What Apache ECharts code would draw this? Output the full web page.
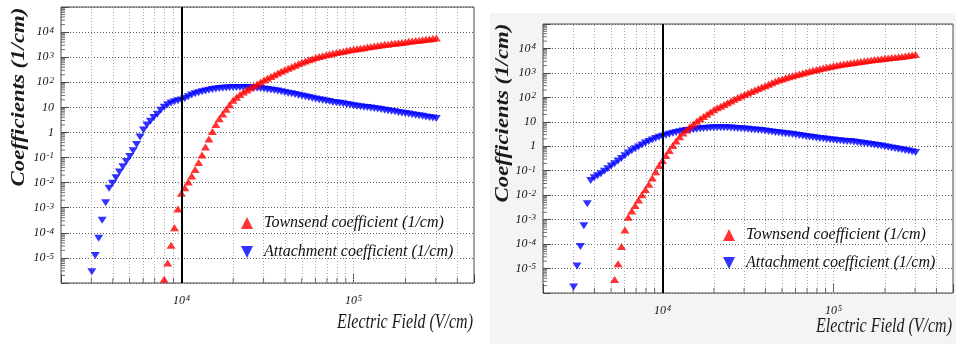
<!DOCTYPE html>
<html>
<head>
<meta charset="utf-8">
<script src="https://cdn.jsdelivr.net/npm/echarts@6/dist/echarts.min.js"></script>
<style>
  html, body { margin: 0; padding: 0; background: #ffffff; }
  #wrap { position: relative; width: 956px; height: 344px; overflow: hidden; }
  #panelShade { position: absolute; left: 490px; top: 13px; width: 466px; height: 331px; background: #f4f4f4; }
  #chart { position: absolute; left: 0; top: 0; width: 956px; height: 344px; }
</style>
</head>
<body>
<div id="wrap">
  <div id="panelShade"></div>
  <div id="chart"></div>
</div>
<script>
// Electric field grid (V/cm), shared by every curve
const fields = [
  3020, 3162, 3311, 3467, 3631, 3802, 3981, 4169, 4365, 4571,
  4786, 5012, 5248, 5495, 5754, 6026, 6310, 6607, 6918, 7244,
  7586, 7943, 8318, 8710, 9120, 9550, 10000, 10470, 10960, 11480,
  12020, 12590, 13180, 13800, 14450, 15140, 15850, 16600, 17380, 18200,
  19050, 19950, 20890, 21880, 22910, 23990, 25120, 26300, 27540, 28840,
  30200, 31620, 33110, 34670, 36310, 38020, 39810, 41690, 43650, 45710,
  47860, 50120, 52480, 54950, 57540, 60260, 63100, 66070, 69180, 72440,
  75860, 79430, 83180, 87100, 91200, 95500, 100000, 104700, 109600, 114800,
  120200, 125900, 131800, 138000, 144500, 151400, 158500, 166000, 173800, 182000,
  190500, 199500, 208900, 218800, 229100, 239900, 251200, 263000, 275400, 288400,
  302000
];

// Left figure: Townsend coefficient (1/cm)
const townsendA = [
  null, null, null, null, null, null, null, null, null, null,
  null, null, null, null, null, null, null, null, null, null,
  null, 1.41e-6, 6.31e-6, 3.16e-5, 1.58e-4, 8.91e-4, 3.80e-3, 6.31e-3, 1.05e-2, 1.82e-2,
  3.31e-2, 6.31e-2, 0.126, 0.263, 0.550, 1.10, 2.09, 3.55, 5.50, 8.32,
  12.6, 19.1, 25.1, 32.4, 40.7, 49.0, 58.9, 70.8, 85.1, 102,
  123, 145, 170, 200, 234, 275, 316, 363, 417, 479,
  550, 631, 708, 794, 871, 977, 1070, 1150, 1260, 1350,
  1450, 1550, 1660, 1740, 1860, 2000, 2090, 2190, 2290, 2400,
  2570, 2690, 2820, 2950, 3090, 3240, 3310, 3470, 3630, 3800,
  3890, 4070, 4270, 4370, 4570, 4680, 4900, 5130, 5250, 5500,
  5750
];

// Left figure: attachment coefficient (1/cm)
const attachmentA = [
  2.82e-6, 1.26e-5, 6.03e-5, 3.16e-4, 1.58e-3, 6.03e-3, 9.55e-3, 1.58e-2, 2.63e-2, 4.27e-2,
  6.92e-2, 0.110, 0.186, 0.331, 0.661, 1.26, 2.00, 2.82, 3.98, 5.37,
  7.59, 10.0, 12.6, 14.8, 16.6, 18.2, 19.5, 22.4, 26.3, 30.9,
  34.7, 38.0, 41.7, 44.7, 47.9, 51.3, 53.7, 56.2, 57.5, 58.9,
  60.3, 61.7, 61.7, 61.7, 61.7, 61.7, 60.3, 58.9, 57.5, 56.2,
  53.7, 51.3, 49.0, 46.8, 44.7, 41.7, 38.9, 36.3, 34.7, 32.4,
  30.2, 28.2, 26.3, 24.5, 22.9, 21.4, 20.0, 19.1, 17.8, 17.0,
  15.8, 15.1, 14.5, 13.8, 12.9, 12.3, 11.7, 11.2, 10.7, 10.2,
  9.77, 9.33, 8.91, 8.51, 8.13, 7.76, 7.41, 7.08, 6.61, 6.31,
  6.03, 5.75, 5.50, 5.13, 4.90, 4.68, 4.47, 4.17, 3.98, 3.80,
  3.63
];

// Right figure: Townsend coefficient (1/cm)
const townsendB = [
  null, null, null, null, null, null, null, null, null, null,
  null, null, 3.55e-6, 1.58e-5, 7.94e-5, 3.80e-4, 1.26e-3, 2.24e-3, 3.80e-3, 6.31e-3,
  1.05e-2, 1.70e-2, 2.82e-2, 5.01e-2, 9.12e-2, 0.162, 0.263, 0.417, 0.676, 1.07,
  1.66, 2.45, 3.47, 4.68, 6.31, 8.13, 10.5, 13.2, 16.6, 20.4,
  25.1, 30.9, 37.2, 43.7, 51.3, 60.3, 70.8, 83.2, 97.7, 115,
  132, 151, 174, 200, 229, 263, 302, 347, 398, 457,
  513, 562, 631, 692, 759, 832, 912, 1000, 1100, 1170,
  1290, 1380, 1480, 1580, 1700, 1820, 1950, 2040, 2190, 2290,
  2450, 2570, 2690, 2820, 2950, 3090, 3240, 3390, 3550, 3630,
  3800, 3980, 4070, 4270, 4370, 4570, 4680, 4900, 5130, 5370,
  5620
];

// Right figure: attachment coefficient (1/cm)
const attachmentB = [
  1.78e-6, 1.26e-5, 7.94e-5, 5.62e-4, 4.47e-3, 3.98e-2, 5.13e-2, 6.17e-2, 7.59e-2, 9.55e-2,
  0.120, 0.155, 0.195, 0.251, 0.316, 0.407, 0.525, 0.661, 0.794, 0.933,
  1.12, 1.35, 1.58, 1.82, 2.09, 2.34, 2.57, 2.82, 3.09, 3.39,
  3.63, 3.89, 4.17, 4.37, 4.57, 4.79, 5.01, 5.25, 5.37, 5.50,
  5.62, 5.75, 5.75, 5.75, 5.75, 5.75, 5.62, 5.50, 5.37, 5.25,
  5.13, 5.01, 4.79, 4.68, 4.47, 4.37, 4.17, 3.98, 3.80, 3.63,
  3.55, 3.39, 3.24, 3.16, 3.02, 2.88, 2.75, 2.63, 2.51, 2.40,
  2.29, 2.19, 2.09, 2.04, 1.95, 1.86, 1.82, 1.74, 1.70, 1.62,
  1.58, 1.55, 1.48, 1.41, 1.35, 1.29, 1.23, 1.17, 1.12, 1.07,
  1.02, 0.955, 0.912, 0.851, 0.813, 0.759, 0.724, 0.676, 0.646, 0.603,
  0.562
];

// Axis ranges
const FIELD_MIN = 2000, FIELD_MAX = 500000;
const COEF_MIN = 1e-6, COEF_MAX = 1e5;
const EXP_MIN = -6, EXP_MAX = 5;

// Dotted field grid lines (V/cm) and the marked field
const fieldGridLines = [3000, 4000, 5000, 6000, 7000, 8000, 9000,
  20000, 30000, 40000, 50000, 60000, 70000, 80000, 90000, 100000,
  200000, 300000, 400000];
const markedField = 10000;
const labelledFields = [10000, 100000];

// Minor tick mantissas within each decade of the coefficient axis
const minorMantissas = [2, 3, 4, 5, 6, 7, 8, 9];
const minorDecades = [-6, -5, -4, -3, -2, -1, 0, 1, 2, 3, 4];

const TOWNSEND = 'Townsend coefficient (1/cm)';
const ATTACH = 'Attachment coefficient (1/cm)';

const serif = '"Liberation Serif", "Times New Roman", serif';

function pairs(xs, ys) {
  const out = [];
  ys.forEach((v, i) => { if (v != null) out.push([xs[i], v]); });
  return out;
}

const yRich = {
  b: { fontFamily: serif, fontStyle: 'italic', fontSize: 12, color: '#111', lineHeight: 12, verticalAlign: 'bottom' },
  s: { fontFamily: serif, fontStyle: 'italic', fontSize: 9, color: '#111', lineHeight: 9, verticalAlign: 'top', padding: [0, 0, 6, 1] }
};
const xRich = {
  b: { fontFamily: serif, fontStyle: 'italic', fontSize: 12, color: '#111', lineHeight: 12, verticalAlign: 'bottom' },
  s: { fontFamily: serif, fontStyle: 'italic', fontSize: 8, color: '#111', lineHeight: 8, verticalAlign: 'top', padding: [0, 0, 6, 1] }
};

function exponentLabel(v) {
  const e = Math.round(v);
  if (e <= EXP_MIN || e >= EXP_MAX) return '';
  if (e === 0) return '{b|1}';
  if (e === 1) return '{b|10}';
  return '{b|10}{s|' + e + '}';
}

function fieldLabel(v) {
  const hit = labelledFields.find(f => Math.abs(f - v) / f < 1e-6);
  if (!hit) return '';
  return '{b|10}{s|' + Math.round(Math.log10(hit)) + '}';
}

const panels = [
  {
    grid: { left: 61, top: 7, width: 413, height: 276 },
    townsend: townsendA, attachment: attachmentA,
    legend: { left: 236, top: 210, itemGap: 13 },
    yTitle: { x: 19, y: 97 },
    xTitle: { x: 473, y: 323 }
  },
  {
    grid: { left: 543, top: 24, width: 410, height: 269 },
    townsend: townsendB, attachment: attachmentB,
    legend: { left: 718, top: 222, itemGap: 12 },
    yTitle: { x: 503, y: 113 },
    xTitle: { x: 952, y: 327 }
  }
];

const option = {
  animation: false,
  grid: [], xAxis: [], yAxis: [], series: [], legend: [], graphic: []
};

const yMinorTickValues = [];
minorDecades.forEach(d => minorMantissas.forEach(m => yMinorTickValues.push(m * Math.pow(10, d))));

panels.forEach((p, i) => {
  option.grid.push(Object.assign({
    show: true, borderColor: '#4a4a4a', borderWidth: 1, backgroundColor: '#ffffff'
  }, p.grid));

  option.xAxis.push({
    type: 'log', gridIndex: i, logBase: 10, min: FIELD_MIN, max: FIELD_MAX,
    axisLine: { show: false, onZero: false },
    axisTick: { inside: true, length: 9, lineStyle: { color: '#4a4a4a' } },
    splitLine: { show: false },
    axisLabel: { formatter: fieldLabel, rich: xRich, margin: 12 }
  });

  const logY = option.yAxis.length;
  option.yAxis.push({
    type: 'log', gridIndex: i, logBase: 10, min: COEF_MIN, max: COEF_MAX, show: false
  });
  option.yAxis.push({
    type: 'value', gridIndex: i, position: 'left', min: EXP_MIN, max: EXP_MAX, interval: 1,
    axisLine: { show: false, onZero: false },
    axisTick: { inside: true, length: 8, lineStyle: { color: '#4a4a4a' } },
    splitLine: { show: true, lineStyle: { color: '#5a5a5a', type: [1, 2], width: 1 } },
    axisLabel: { formatter: exponentLabel, rich: yRich, margin: 7 }
  });

  // field grid lines and minor ticks along the bottom edge
  option.series.push({
    name: 'field ticks', type: 'scatter', xAxisIndex: i, yAxisIndex: logY,
    data: fieldGridLines.filter(f => labelledFields.indexOf(f) < 0).map(f => [f, COEF_MIN]),
    symbol: 'rect', symbolSize: [1, 5], symbolOffset: [0, -2.5],
    itemStyle: { color: '#4a4a4a' }, silent: true, clip: false, z: 3,
    markLine: {
      silent: true, z: 1, symbol: ['none', 'none'], label: { show: false },
      lineStyle: { color: '#a8a8a8', type: [1, 2], width: 1 },
      data: fieldGridLines.map(f => ({ xAxis: f }))
    }
  });

  // minor ticks along the coefficient axis
  option.series.push({
    name: 'coefficient ticks', type: 'scatter', xAxisIndex: i, yAxisIndex: logY,
    data: yMinorTickValues.map(v => [FIELD_MIN, v]),
    symbol: 'rect', symbolSize: [4, 1], symbolOffset: [2, 0],
    itemStyle: { color: '#4a4a4a' }, silent: true, clip: false, z: 3
  });

  option.series.push({
    name: ATTACH, type: 'scatter', xAxisIndex: i, yAxisIndex: logY,
    data: pairs(fields, p.attachment),
    symbol: 'triangle', symbolRotate: 180, symbolSize: [9, 7],
    itemStyle: { color: '#0000ff' }, z: 4
  });

  option.series.push({
    name: TOWNSEND, type: 'scatter', xAxisIndex: i, yAxisIndex: logY,
    data: pairs(fields, p.townsend),
    symbol: 'triangle', symbolSize: [9, 7],
    itemStyle: { color: '#ff0000' }, z: 4,
    markLine: {
      silent: true, z: 6, symbol: ['none', 'none'], label: { show: false },
      lineStyle: { color: '#000000', type: 'solid', width: 2 },
      data: [{ xAxis: markedField }]
    }
  });

  option.legend.push({
    left: p.legend.left, top: p.legend.top, orient: 'vertical',
    itemGap: p.legend.itemGap, itemWidth: 12, itemHeight: 12, selectedMode: false,
    textStyle: { fontFamily: serif, fontStyle: 'italic', fontSize: 16, color: '#111', padding: [0, 0, 0, 6] },
    data: [
      { name: TOWNSEND, icon: 'triangle' },
      { name: ATTACH, icon: 'path://M0,0L10,0L5,10Z' }
    ]
  });

  option.graphic.push({
    type: 'text', x: p.yTitle.x, y: p.yTitle.y, rotation: Math.PI / 2, scaleX: 1.2,
    style: {
      text: 'Coefficients (1/cm)', font: 'italic bold 19px ' + serif,
      fill: '#1a1a1a', align: 'center', verticalAlign: 'middle'
    }
  });
  option.graphic.push({
    type: 'text', x: p.xTitle.x, y: p.xTitle.y, scaleX: 0.8,
    style: {
      text: 'Electric Field (V/cm)', font: 'italic 20px ' + serif,
      fill: '#1a1a1a', align: 'right', verticalAlign: 'middle'
    }
  });
});

const chart = echarts.init(document.getElementById('chart'));
chart.setOption(option);
</script>
</body>
</html>
